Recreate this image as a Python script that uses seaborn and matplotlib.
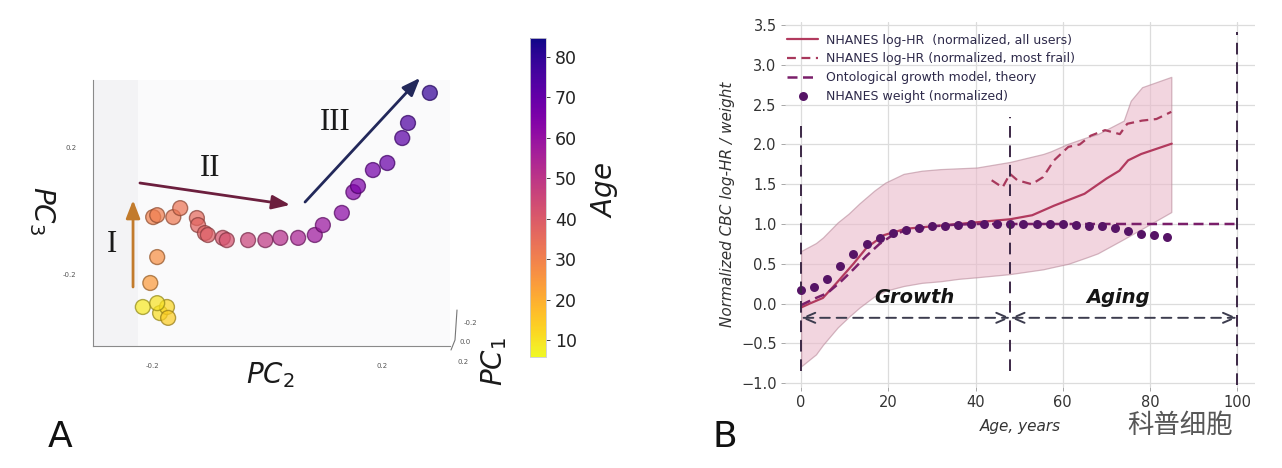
import numpy as np
import pandas as pd
import matplotlib
matplotlib.use("Agg")
import matplotlib.pyplot as plt
import matplotlib.colors as mcolors
from matplotlib.patches import Rectangle
import seaborn as sns

# ---------------- Panel A data (PCA trajectory) ----------------
pc2 = [-0.216, -0.186, -0.174, -0.172, -0.191, -0.203, -0.191, -0.198, -0.191, -0.163,
       -0.151, -0.122, -0.120, -0.108, -0.103, -0.077, -0.070, -0.033, -0.003, 0.023,
       0.054, 0.083, 0.097, 0.130, 0.150, 0.158, 0.184, 0.209, 0.235, 0.245, 0.283]
pc3 = [-0.300, -0.319, -0.300, -0.334, -0.288, -0.225, -0.144, -0.019, -0.013, -0.019,
       0.009, -0.022, -0.044, -0.069, -0.075, -0.084, -0.091, -0.091, -0.091, -0.084,
       -0.084, -0.075, -0.044, -0.006, 0.059, 0.078, 0.128, 0.150, 0.228, 0.275, 0.369]
ages_pca = [9, 11, 12, 14, 10, 24, 27, 30, 31, 32, 33, 36, 37, 38, 39, 41, 42, 46, 49, 52,
            55, 58, 59, 62, 64, 65, 67, 69, 72, 74, 79]
cbar_ticks = [10, 20, 30, 40, 50, 60, 70, 80]

# ---------------- Panel B data ----------------
hr_age = [0, 2, 5, 8, 12, 15, 19, 24, 32, 40, 48, 53, 58, 65, 70, 73, 75, 78, 85]
hr_all = [-0.05, 0.0, 0.07, 0.25, 0.50, 0.70, 0.86, 0.94, 0.98, 1.02, 1.06, 1.11, 1.23,
          1.38, 1.57, 1.67, 1.80, 1.88, 2.01]
band_age = [0, 3.4, 5, 8.4, 10.9, 13.4, 16.8, 19.3, 23.5, 27.7, 32, 36.1, 40.3, 47.9,
            55.5, 57.1, 61.3, 65.5, 68, 74, 75.6, 78.2, 84.9]
band_hi = [0.66, 0.76, 0.83, 1.02, 1.13, 1.26, 1.42, 1.52, 1.63, 1.67, 1.69, 1.70, 1.71,
           1.78, 1.88, 1.91, 2.01, 2.09, 2.13, 2.30, 2.55, 2.72, 2.85]
band_lo = [-0.79, -0.64, -0.52, -0.30, -0.17, -0.05, 0.09, 0.16, 0.22, 0.26, 0.28, 0.31,
           0.33, 0.37, 0.43, 0.45, 0.50, 0.58, 0.63, 0.81, 0.86, 0.94, 1.15]
frail_age = [43.7, 46.2, 47.9, 49.6, 52.9, 55.5, 58.0, 61.3, 63.9, 66.4, 69.7, 73.1,
             74.8, 78.2, 81.5, 84.9]
frail_hr = [1.55, 1.46, 1.63, 1.55, 1.50, 1.59, 1.80, 1.97, 2.00, 2.11, 2.18, 2.13,
            2.26, 2.30, 2.32, 2.41]
theory_age = [0, 3, 6, 9, 12, 15, 18, 21, 24, 27, 30, 35, 40, 50, 60, 70, 80, 90, 100]
theory_val = [-0.02, 0.06, 0.13, 0.27, 0.43, 0.60, 0.75, 0.86, 0.92, 0.95, 0.97, 0.99,
              1.0, 1.0, 1.0, 1.0, 1.0, 1.0, 1.0]
w_age = [0, 3, 6, 9, 12, 15, 18, 21, 24, 27, 30, 33, 36, 39, 42, 45, 48, 51, 54, 57, 60,
         63, 66, 69, 72, 75, 78, 81, 84]
w_val = [0.17, 0.21, 0.31, 0.47, 0.62, 0.75, 0.83, 0.89, 0.93, 0.95, 0.97, 0.98, 0.99,
         1.0, 1.0, 1.0, 1.0, 1.0, 1.0, 1.0, 1.0, 0.99, 0.98, 0.97, 0.95, 0.91, 0.88, 0.86,
         0.84]
phase_bounds = [0, 48, 100]
phase_names = ["Growth", "Aging"]
legend_labels = ["NHANES log-HR  (normalized, all users)",
                 "NHANES log-HR (normalized, most frail)",
                 "Ontological growth model, theory",
                 "NHANES weight (normalized)"]

sns.set_theme(style="whitegrid")
plt.rcParams['font.family'] = ['DejaVu Sans']
plt.rcParams['mathtext.fontset'] = 'dejavusans'

W, H = 1282, 468
fig = plt.figure(figsize=(W / 100, H / 100), dpi=100)
fig.patch.set_facecolor("white")

def px(l, t, r, b):
    return [l / W, (H - b) / H, (r - l) / W, (b - t) / H]

# ================= Panel A =================
ax1 = fig.add_axes(px(93, 80, 450, 346))
ax1.set_facecolor("#fafafb")
ax1.grid(False)
ax1.set_xlim(-0.3026, 0.318)
ax1.set_ylim(-0.4219, 0.4094)
ax1.add_patch(Rectangle((0, 0), 45 / 357, 1, transform=ax1.transAxes,
                        facecolor="#f3f3f5", edgecolor="none", zorder=0))
for s in ["top", "right"]:
    ax1.spines[s].set_visible(False)
for s in ["left", "bottom"]:
    ax1.spines[s].set_color("#8a8a8a")
    ax1.spines[s].set_linewidth(0.8)

cmap = plt.get_cmap("plasma_r")
norm = mcolors.Normalize(vmin=5.8, vmax=84.7)
dfa = pd.DataFrame({"pc2": pc2, "pc3": pc3, "age": ages_pca})
sns.scatterplot(data=dfa, x="pc2", y="pc3", hue="age", palette=cmap, hue_norm=norm,
                s=115, alpha=0.72, linewidth=1.0, legend=False, ax=ax1, zorder=3)
coll = ax1.collections[-1]
fc = cmap(norm(np.array(ages_pca)))
ec = fc.copy()
ec[:, :3] *= 0.6
ec[:, 3] = 0.8
coll.set_edgecolors(ec)

ax1.set_xticks([-0.2, 0.2])
ax1.set_xticklabels(["-0.2", "0.2"])
ax1.set_yticks([-0.2, 0.2])
ax1.set_yticklabels(["-0.2", "0.2"])
ax1.tick_params(length=0, labelsize=5, colors="#555555", pad=12)
ax1.set_xlabel("")
ax1.set_ylabel("")

arrow_specs = [((-0.233, -0.2375), (-0.233, 0.034), "#c27b2c"),
               ((-0.221, 0.0875), (0.040, 0.019), "#6c1f3e"),
               ((0.066, 0.028), (0.266, 0.416), "#22285a")]
for (x0, y0), (x1, y1), col in arrow_specs:
    ax1.annotate("", xy=(x1, y1), xytext=(x0, y0),
                 arrowprops=dict(arrowstyle="-|>,head_length=0.9,head_width=0.35",
                                 color=col, lw=2.0, shrinkA=0, shrinkB=0),
                 annotation_clip=False, zorder=4)
for lab, (tx, ty) in zip(["I", "II", "III"], [(-0.270, -0.106), (-0.099, 0.134), (0.118, 0.278)]):
    ax1.text(tx, ty, lab, fontsize=22, family="Liberation Serif", color="#1a1a1a",
             ha="center", va="center")

fig.text(270 / W, 1 - 375 / H, r"$PC_2$", fontsize=20, ha="center", va="center", color="#1a1a1a")
fig.text(42 / W, 1 - 210 / H, r"$PC_3$", fontsize=20, ha="center", va="center",
         rotation=270, color="#1a1a1a")
fig.text(494 / W, 1 - 362 / H, r"$PC_1$", fontsize=20, ha="center", va="center",
         rotation=90, color="#1a1a1a")
for txt, (x, y) in zip(["-0.2", "0.0", "0.2"], [(470, 323), (465, 342), (463, 362)]):
    fig.text(x / W, 1 - y / H, txt, fontsize=5, color="#555555", ha="center", va="center")
fig.add_artist(plt.Line2D([451 / W, 455 / W, 457 / W], [1 - 350 / H, 1 - 340 / H, 1 - 310 / H],
                          color="#777777", lw=0.8))

cax = fig.add_axes(px(530, 38, 546, 357))
sm = matplotlib.cm.ScalarMappable(norm=norm, cmap=cmap)
cb = fig.colorbar(sm, cax=cax)
cb.set_ticks(cbar_ticks)
cb.ax.tick_params(labelsize=12.5, length=3, width=0.6, colors="#222222")
cb.outline.set_linewidth(0.6)
fig.text(605 / W, 1 - 190 / H, r"$Age$", fontsize=20, rotation=90, ha="center",
         va="center", color="#1a1a1a")

fig.text(60 / W, 1 - 437 / H, "A", fontsize=26, ha="center", va="center", color="#111111")
fig.text(725 / W, 1 - 437 / H, "B", fontsize=26, ha="center", va="center", color="#111111")

# ================= Panel B =================
ax2 = fig.add_axes(px(785, 22, 1255, 387))
ax2.set_facecolor("white")
ax2.set_xlim(-3.7, 104.1)
ax2.set_ylim(-1.05, 3.54)
for s in ax2.spines.values():
    s.set_visible(False)
ax2.grid(True, color="#dcdcdc", lw=0.9)
ax2.set_xticks([0, 20, 40, 60, 80, 100])
ax2.set_yticks([-1.0, -0.5, 0.0, 0.5, 1.0, 1.5, 2.0, 2.5, 3.0, 3.5])
ax2.set_yticklabels(["\u22121.0", "\u22120.5", "0.0", "0.5", "1.0", "1.5", "2.0", "2.5", "3.0", "3.5"])
ax2.tick_params(axis="both", labelsize=10.5, colors="#333333", length=3, width=0.6,
                left=True, bottom=True, pad=3)
ax2.tick_params(axis="both", color="#999999")

ax2.fill_between(band_age, band_lo, band_hi, color="#eab9cb", alpha=0.6,
                 edgecolor="#b88a9a", linewidth=0.9, zorder=1)

sns.lineplot(x=hr_age, y=hr_all, ax=ax2, color="#b23a5e", lw=1.6, zorder=3,
             label=legend_labels[0])
sns.lineplot(x=frail_age, y=frail_hr, ax=ax2, color="#a8385c", lw=1.6, zorder=3,
             linestyle=(0, (4, 2.5)), label=legend_labels[1])
sns.lineplot(x=theory_age, y=theory_val, ax=ax2, color="#7a1f6a", lw=1.8, zorder=3,
             linestyle=(0, (4, 2.2)), label=legend_labels[2])
sns.scatterplot(x=w_age, y=w_val, ax=ax2, color="#561466", s=42, linewidth=0, zorder=4,
                label=legend_labels[3])

vl = [(phase_bounds[0], -0.85, 2.32), (phase_bounds[1], -0.85, 2.34), (phase_bounds[2], -1.02, 3.42)]
for xv, y0, y1 in vl:
    ax2.plot([xv, xv], [y0, y1], color="#3c2846", lw=1.4, linestyle=(0, (6, 4)), zorder=5)

for a, b in zip(phase_bounds[:-1], phase_bounds[1:]):
    ax2.annotate("", xy=(b, -0.18), xytext=(a, -0.18),
                 arrowprops=dict(arrowstyle="<->,head_length=0.7,head_width=0.3",
                                 color="#3c3c4e", lw=1.4, linestyle=(0, (5, 3.5)),
                                 shrinkA=0, shrinkB=0), zorder=5)
for name, xc in zip(phase_names, [26, 72.7]):
    ax2.text(xc, 0.08, name, fontsize=14, fontweight="bold", fontstyle="italic",
             ha="center", va="center", color="#151515", zorder=6)

ax2.set_xlabel("Age, years", fontsize=11, fontstyle="italic", color="#333333", labelpad=6)
ax2.set_ylabel("Normalized CBC log-HR / weight", fontsize=11, fontstyle="italic",
               color="#333333", labelpad=4)

leg = ax2.legend(loc="upper left", bbox_to_anchor=(0.004, 0.968), frameon=False,
                 fontsize=9, labelspacing=0.45, handlelength=2.5, handletextpad=0.6,
                 borderpad=0, borderaxespad=0, labelcolor="#2e2a4a")

fig.text(1180 / W, 1 - 425 / H, "科普细胞", fontsize=19, ha="center", va="center",
         color="#3a3a3a", family=["Noto Sans CJK SC", "DejaVu Sans"], alpha=0.85)

fig.savefig("out.png", dpi=100, facecolor="white")
